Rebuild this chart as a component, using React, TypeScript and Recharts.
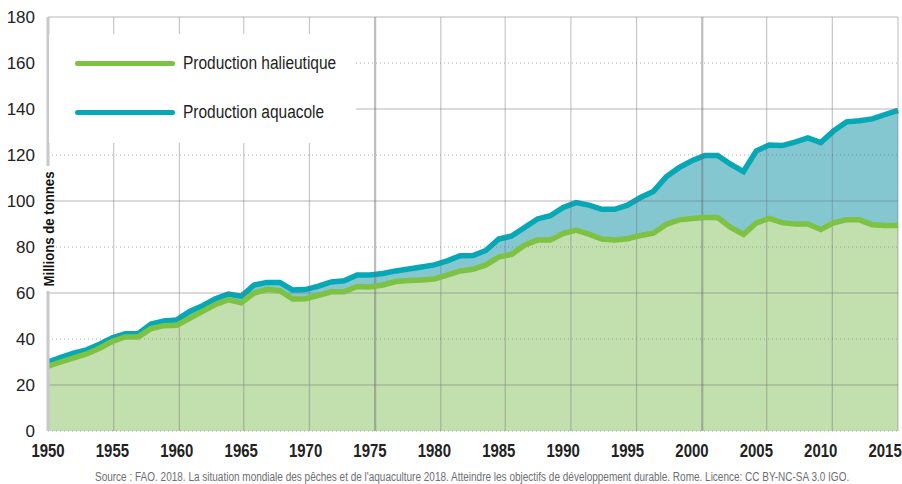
import { ComposedChart, Area, Line, XAxis, YAxis, Legend, ReferenceLine } from "recharts";

const FONT = '"Liberation Sans", Arial, sans-serif';
const GREEN = "#7dc242";
const TEAL = "#06a8b5";

const YEARS = [
  1950, 1951, 1952, 1953, 1954, 1955, 1956, 1957, 1958, 1959,
  1960, 1961, 1962, 1963, 1964, 1965, 1966, 1967, 1968, 1969,
  1970, 1971, 1972, 1973, 1974, 1975, 1976, 1977, 1978, 1979,
  1980, 1981, 1982, 1983, 1984, 1985, 1986, 1987, 1988, 1989,
  1990, 1991, 1992, 1993, 1994, 1995, 1996, 1997, 1998, 1999,
  2000, 2001, 2002, 2003, 2004, 2005, 2006, 2007, 2008, 2009,
  2010, 2011, 2012, 2013, 2014, 2015, 2016,
];

// millions de tonnes
const CAPTURE = [
  28.2, 30.0, 31.8, 33.5, 36.0, 39.0, 40.9, 40.9, 44.5, 45.8,
  46.0, 49.0, 52.0, 55.0, 57.0, 55.7, 60.0, 61.6, 61.0, 57.4,
  57.5, 59.0, 60.5, 60.5, 62.8, 62.6, 63.5, 65.0, 65.4, 65.7,
  66.1, 67.8, 69.6, 70.3, 72.2, 75.6, 76.8, 80.8, 83.0, 83.0,
  85.8, 87.3, 85.6, 83.5, 83.1, 83.6, 85.0, 86.0, 89.8, 91.8,
  92.4, 92.8, 92.8, 88.5, 85.5, 90.5, 92.4, 90.6, 90.0, 90.0,
  87.6, 90.5, 91.8, 91.8, 89.7, 89.4, 89.4,
];

const AQUACULTURE = [
  1.8, 2.0, 2.0, 1.8, 1.7, 1.5, 1.4, 1.4, 2.0, 2.0,
  2.3, 3.0, 2.5, 2.5, 2.5, 2.9, 3.5, 3.0, 3.6, 3.9,
  4.0, 4.0, 4.3, 4.8, 5.0, 5.2, 5.0, 4.6, 5.0, 5.6,
  6.1, 6.2, 6.6, 6.0, 6.3, 7.9, 8.0, 7.7, 9.2, 10.6,
  11.4, 12.0, 12.6, 12.9, 13.3, 14.6, 16.5, 18.1, 20.7, 22.7,
  25.1, 27.0, 27.0, 27.5, 27.3, 31.3, 31.9, 33.5, 35.6, 37.4,
  37.8, 40.0, 42.6, 43.1, 46.0, 48.2, 50.0,
];

const X_TICKS = [1950, 1955, 1960, 1965, 1970, 1975, 1980, 1985, 1990, 1995, 2000, 2005, 2010, 2015];
const Y_TICKS = [0, 20, 40, 60, 80, 100, 120, 140, 160, 180];
const GRID_SOLID = [20, 60, 100, 140, 180];
const GRID_DOTTED = [0, 40, 80, 120, 160];
// vertical grid of the original does not sit exactly on the year ticks
const GRID_X = [1955.1, 1960.2, 1965.2, 1970.3, 1980.5, 1985.5, 1990.6, 1995.7, 2005.8, 2010.9, 2016];
const GRID_X_MAJOR = [1975.4, 2000.8];

const SERIES = [
  { name: "Production halieutique", color: GREEN },
  { name: "Production aquacole", color: TEAL },
];

const SOURCE =
  "Source : FAO. 2018. La situation mondiale des pêches et de l'aquaculture 2018. Atteindre les objectifs de développement durable. Rome. Licence: CC BY-NC-SA 3.0 IGO.";

const data = YEARS.map((year, i) => ({
  year,
  capture: CAPTURE[i],
  aquaculture: AQUACULTURE[i],
}));

function XTick({ x, y, payload }: any) {
  return (
    <text
      x={0}
      y={0}
      dy="0.72em"
      transform={`translate(${x},${y}) scale(0.83,1)`}
      textAnchor="middle"
      fontFamily={FONT}
      fontWeight="bold"
      fontSize={18}
      fill="#222"
    >
      {payload.value}
    </text>
  );
}

function AxisTitle(props: any) {
  const vb = props.viewBox;
  const x = vb.x + vb.width + 6;
  const y = vb.y + vb.height / 2 + 5;
  return (
    <g>
      <rect x={x - 10} y={y - 63} width={8} height={125} fill="#fff" />
      <text
        x={x}
        y={y}
        transform={`rotate(-90 ${x} ${y})`}
        textAnchor="middle"
        fontFamily={FONT}
        fontWeight="bold"
        fontSize={15}
        textLength={115}
        lengthAdjust="spacingAndGlyphs"
        fill="#111"
      >
        Millions de tonnes
      </text>
    </g>
  );
}

function LegendBox() {
  return (
    <div style={{ width: "100%", height: "100%", background: "#fff", position: "relative" }}>
      {SERIES.map((s, i) => (
        <div
          key={s.name}
          style={{
            position: "absolute",
            left: 26,
            top: 17 + i * 49,
            height: 24,
            display: "flex",
            alignItems: "center",
          }}
        >
          <div style={{ width: 100, height: 5, borderRadius: 3, background: s.color }} />
          <span
            style={{
              marginLeft: 8,
              fontFamily: FONT,
              fontSize: 18,
              color: "#231f20",
              whiteSpace: "nowrap",
              display: "inline-block",
              transform: "scaleX(0.86)",
              transformOrigin: "left center",
            }}
          >
            {s.name}
          </span>
        </div>
      ))}
    </div>
  );
}

const GRID_STROKE = "#6c6c76";

export default function App() {
  return (
    <div style={{ position: "absolute", left: 0, top: 0, width: 902, height: 484, background: "#fff", overflow: "hidden" }}>
      <ComposedChart
        width={902}
        height={484}
        data={data}
        margin={{ top: 17, right: 4, bottom: 23, left: 0 }}
      >
        <XAxis
          dataKey="year"
          type="number"
          domain={[1950, 2016]}
          ticks={X_TICKS}
          axisLine={false}
          tickLine={false}
          tickSize={0}
          tickMargin={13}
          height={30}
          tick={<XTick />}
        />
        <YAxis
          type="number"
          domain={[0, 180]}
          ticks={Y_TICKS}
          width={48}
          axisLine={{ stroke: "#c8c8cc", strokeWidth: 3 }}
          tickLine={false}
          tickSize={0}
          tickMargin={13}
          tick={{ fill: "#222", fontSize: 17, fontFamily: FONT }}
          label={<AxisTitle />}
        />

        {GRID_X.map((v) => (
          <ReferenceLine key={`gx-${v}`} x={v} stroke={GRID_STROKE} strokeOpacity={0.38} strokeWidth={1.2} />
        ))}
        {GRID_X_MAJOR.map((v) => (
          <ReferenceLine key={`gm-${v}`} x={v} stroke={GRID_STROKE} strokeOpacity={0.45} strokeWidth={2.2} />
        ))}
        {GRID_SOLID.map((v) => (
          <ReferenceLine key={`gs-${v}`} y={v} stroke={GRID_STROKE} strokeOpacity={0.33} strokeWidth={1.4} />
        ))}
        {GRID_DOTTED.map((v) => (
          <ReferenceLine
            key={`gd-${v}`}
            y={v}
            stroke={GRID_STROKE}
            strokeOpacity={0.55}
            strokeWidth={1}
            strokeDasharray="1 3"
          />
        ))}

        <Legend
          layout="vertical"
          align="center"
          verticalAlign="middle"
          content={<LegendBox />}
          wrapperStyle={{ left: 49, top: 34, width: 307, height: 109 }}
        />
        <Area
          dataKey="capture"
          stackId="prod"
          type="linear"
          stroke="none"
          fill="#86bf5e"
          fillOpacity={0.5}
          isAnimationActive={false}
          activeDot={false}
        />
        <Area
          dataKey="aquaculture"
          stackId="prod"
          type="linear"
          stroke={TEAL}
          strokeWidth={5.5}
          fill="#0b8fa3"
          fillOpacity={0.5}
          isAnimationActive={false}
          activeDot={false}
        />
        <Line
          dataKey="capture"
          type="linear"
          stroke={GREEN}
          strokeWidth={5.5}
          dot={false}
          activeDot={false}
          isAnimationActive={false}
        />
      </ComposedChart>
      <div
        style={{
          position: "absolute",
          left: 95,
          top: 470,
          fontFamily: FONT,
          fontSize: 12.5,
          lineHeight: "14px",
          color: "#6d6e71",
          whiteSpace: "nowrap",
          transform: "scaleX(0.8)",
          transformOrigin: "left center",
        }}
      >
        {SOURCE}
      </div>
    </div>
  );
}
